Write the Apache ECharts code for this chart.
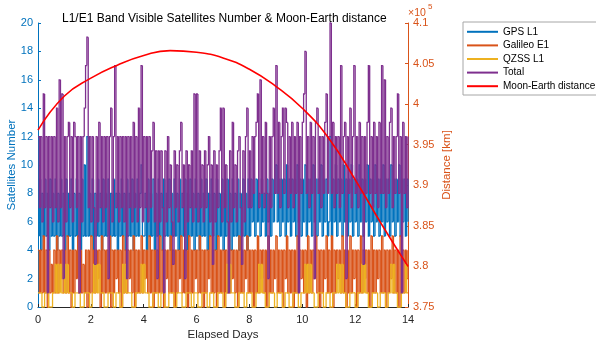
<!DOCTYPE html>
<html>
<head>
<meta charset="utf-8">
<script src="https://cdn.jsdelivr.net/npm/echarts@6/dist/echarts.min.js"></script>
<style>
  html, body { margin: 0; padding: 0; background: #fff; }
  #chart { width: 596px; height: 347px; }
</style>
</head>
<body>
<div id="chart"></div>
<script>
// sample step in days (20 samples per day)
var dt = 0.05

var gpsL1 = [
  5,9,4,8,5,9,5,8,4,9,5,8,5,9,4,8,5,9,5,8,
  4,9,5,8,5,9,4,8,5,9,5,8,4,9,5,10,5,12,5,8,
  5,9,4,8,5,9,5,8,4,9,5,8,5,9,4,8,5,9,5,8,
  4,8,5,9,5,8,4,9,5,8,5,9,4,8,5,9,5,8,10,5,
  5,8,4,9,5,8,5,9,4,8,5,9,5,8,4,9,5,8,5,9,
  4,8,5,9,5,8,4,9,5,8,5,9,4,8,5,9,5,8,4,9,
  5,8,4,9,5,8,5,9,4,8,5,9,5,8,4,9,5,8,5,9,
  4,8,5,9,5,8,4,9,5,8,5,9,4,8,5,9,5,8,4,9,
  5,9,6,8,5,9,6,8,5,9,6,8,5,9,6,8,5,9,6,8,
  10,6,9,5,9,6,9,5,10,6,9,5,9,6,9,5,10,6,9,5,
  9,6,10,5,9,6,9,5,10,6,9,5,9,6,10,5,9,6,9,5,
  6,12,5,9,6,10,5,9,6,9,5,10,6,9,5,9,6,10,5,9,
  6,9,5,10,6,9,5,9,6,10,5,9,6,9,5,10,6,9,5,9,
  6,10,5,9,6,9,5,10,6,9,5,9,6,10,5,9,6,9,5,9,
  6
]

var galileoE1 = [
  4,1,4,1,5,1,4,0,4,1,3,1,4,1,5,1,4,2,4,1,
  4,1,5,1,4,0,4,1,4,2,5,1,4,1,3,1,4,0,4,1,
  5,1,4,1,4,2,4,0,5,1,4,1,4,1,5,0,4,1,4,2,
  4,1,4,0,5,1,4,1,4,2,4,1,5,0,4,1,4,1,5,1,
  4,2,4,1,5,1,4,0,4,1,4,1,5,1,4,0,4,2,4,1,
  5,1,4,0,4,1,4,2,5,1,4,1,4,0,5,1,4,1,4,2,
  4,1,5,1,4,0,4,1,4,2,5,1,4,1,4,0,5,1,4,1,
  4,0,4,1,5,1,4,2,4,1,4,0,5,1,4,1,4,2,5,1,
  4,1,4,0,4,1,5,1,4,2,4,1,4,0,5,1,4,1,4,2,
  5,1,4,1,4,0,4,2,5,1,4,1,4,0,4,1,5,1,4,2,
  4,1,4,0,5,1,4,1,4,2,5,1,4,0,4,1,4,2,5,1,
  4,1,5,0,4,1,4,2,4,1,5,1,4,0,4,1,5,1,4,2,
  4,0,4,1,5,1,4,2,4,1,4,0,5,1,4,1,4,2,4,1,
  5,1,4,0,4,1,4,2,5,1,4,1,4,0,5,1,4,1,4,2,
  4
]

var qzssL1 = [
  1,1,1,0,0,1,1,1,0,0,0,1,1,3,1,3,1,3,1,1,
  3,1,3,1,1,1,0,0,1,1,1,1,0,0,0,1,1,1,1,0,
  0,1,3,1,3,1,3,1,1,1,0,0,0,1,1,1,1,0,0,1,
  1,1,0,0,3,1,3,1,1,1,1,0,0,0,1,1,1,1,3,1,
  3,1,1,1,0,0,0,1,1,1,1,0,0,1,1,1,0,0,0,1,
  1,1,1,0,0,1,1,1,1,0,0,0,1,1,1,1,0,0,1,1,
  1,0,0,0,1,1,1,1,0,0,1,1,1,0,0,0,1,1,1,1,
  0,0,1,3,1,3,1,1,1,0,0,0,1,1,1,1,0,0,1,1,
  1,1,0,0,0,1,1,3,1,3,1,1,0,0,0,1,1,1,1,0,
  0,1,1,1,1,0,0,1,1,1,0,0,0,1,1,1,1,0,0,1,
  1,1,3,1,3,1,3,1,1,0,0,0,1,1,1,1,0,0,1,1,
  1,0,0,1,1,1,3,1,3,1,3,1,1,0,0,0,1,1,1,1,
  0,0,1,1,1,3,1,3,1,1,0,0,0,1,1,1,1,0,0,1,
  1,1,1,0,0,1,1,3,1,3,1,1,0,0,0,1,1,1,3,1,
  1
]

var total = [
  12,7,12,6,15,7,12,1,12,7,12,6,12,7,14,6,16,7,15,2,
  12,6,12,13,7,12,6,13,12,7,12,1,12,6,12,14,17,19,7,12,
  6,12,7,3,12,6,13,7,12,6,12,7,12,2,12,14,6,12,17,7,
  12,6,12,7,12,6,12,2,12,7,12,6,13,7,12,6,14,7,17,6,
  12,7,12,6,12,7,11,13,6,11,2,11,6,11,7,1,11,6,12,7,
  10,6,3,11,7,10,6,11,13,7,10,2,11,6,10,7,11,6,15,7,
  15,6,11,7,10,6,11,7,10,12,6,10,3,11,6,10,7,11,14,6,
  14,7,10,6,1,11,6,13,7,10,6,11,12,7,3,11,6,12,14,7,
  11,7,12,8,12,13,15,7,16,8,12,7,13,8,2,12,7,12,14,8,
  17,8,13,7,12,14,8,14,13,7,12,8,13,7,12,8,13,1,12,8,
  13,15,18,8,12,7,13,8,12,2,13,14,8,12,7,12,8,13,15,8,
  12,20,8,13,7,12,8,12,7,17,8,12,13,2,12,8,14,7,12,17,
  8,12,7,13,8,12,3,12,8,13,17,8,12,7,13,8,12,7,13,8,
  17,8,16,7,12,8,13,14,7,12,8,12,15,8,12,1,13,8,12,7,
  12
]

// Moon-Earth distance (x 1e5 km), one reading per day
var distDays = [0,1,2,3,4,5,6,7,8,9,10,11,12,13,14]
var distance = [3.968,4.010,4.032,4.048,4.060,4.066,4.064,4.057,4.043,4.022,3.995,3.958,3.907,3.852,3.800]

var xTicks = [0, 14, 2]
var leftTicks = [0, 20, 2]
var rightTicks = [3.75, 4.1, 0.05]

var blue = '#0072BD'
var orange = '#D95319'
var font = 'Liberation Sans, Arial, sans-serif'

// stairs like MATLAB: each sample = [t, value, previous value, next t]
function stairRows(arr) {
  var rows = []
  for (var i = 0; i < arr.length; i++) {
    var t = +(i * dt).toFixed(2)
    var tNext = i < arr.length - 1 ? +((i + 1) * dt).toFixed(2) : t
    var prev = i > 0 ? arr[i - 1] : arr[i]
    rows.push([t, arr[i], prev, tNext])
  }
  return rows
}

function stairs(name, arr, color) {
  return {
    name: name,
    type: 'custom',
    coordinateSystem: 'cartesian2d',
    yAxisIndex: 0,
    silent: true,
    encode: { x: 0, y: 1 },
    itemStyle: { color: color },
    renderItem: function (params, api) {
      var p = api.coord([api.value(0), api.value(1)])
      var q = api.coord([api.value(0), api.value(2)])
      var r = api.coord([api.value(3), api.value(1)])
      return {
        type: 'polyline',
        shape: { points: [q, p, r] },
        style: { stroke: color, lineWidth: 1.3, fill: null }
      }
    },
    data: stairRows(arr)
  }
}

var chart = echarts.init(document.getElementById('chart'))
chart.setOption({
  animation: false,
  backgroundColor: '#fff',
  title: {
    text: 'L1/E1 Band Visible Satellites Number & Moon-Earth distance',
    left: 57,
    top: 8,
    textStyle: { fontSize: 12, fontWeight: 'normal', color: '#000', fontFamily: font }
  },
  grid: { left: 38, right: 188, top: 23, bottom: 40, containLabel: false, outerBoundsMode: 'none' },
  legend: {
    orient: 'vertical',
    left: 463,
    top: 22,
    padding: [4, 4, 3, 4],
    icon: 'rect',
    itemWidth: 31,
    itemHeight: 2,
    itemGap: 2,
    borderColor: '#a6a6a6',
    borderWidth: 1,
    backgroundColor: '#fff',
    textStyle: { fontSize: 10, lineHeight: 11.6, color: '#000', fontFamily: font },
    data: ['GPS L1', 'Galileo E1', 'QZSS L1', 'Total', 'Moon-Earth distance']
  },
  xAxis: {
    type: 'value',
    min: xTicks[0],
    max: xTicks[1],
    interval: xTicks[2],
    name: 'Elapsed Days',
    nameLocation: 'middle',
    nameGap: 22,
    nameMoveOverlap: false,
    nameTextStyle: { fontSize: 11.5, color: '#262626', fontFamily: font },
    axisLine: { lineStyle: { color: '#262626', width: 1 } },
    axisTick: { inside: true, length: 3, lineStyle: { color: '#262626' } },
    axisLabel: { fontSize: 11, color: '#262626', margin: 7, fontFamily: font },
    splitLine: { show: false }
  },
  yAxis: [
    {
      type: 'value',
      min: leftTicks[0],
      max: leftTicks[1],
      interval: leftTicks[2],
      name: 'Satellites Number',
      nameLocation: 'middle',
      nameGap: 20,
      nameMoveOverlap: false,
      nameTextStyle: { fontSize: 11.5, color: blue, fontFamily: font },
      axisLine: { show: true, lineStyle: { color: blue, width: 1 } },
      axisTick: { show: true, inside: true, length: 3, lineStyle: { color: blue } },
      axisLabel: { fontSize: 11, color: blue, margin: 5, fontFamily: font },
      splitLine: { show: false }
    },
    {
      type: 'value',
      min: rightTicks[0],
      max: rightTicks[1],
      interval: rightTicks[2],
      name: 'Distance [km]',
      nameLocation: 'middle',
      nameGap: 33,
      nameRotate: 90,
      nameMoveOverlap: false,
      nameTextStyle: { fontSize: 11.5, color: orange, fontFamily: font },
      axisLine: { show: true, lineStyle: { color: orange, width: 1 } },
      axisTick: { show: true, inside: true, length: 3, lineStyle: { color: orange } },
      axisLabel: {
        fontSize: 11,
        color: orange,
        margin: 5,
        fontFamily: font,
        formatter: function (v) { return String(+v.toFixed(2)) }
      },
      splitLine: { show: false }
    }
  ],
  graphic: [
    { type: 'text', left: 408, top: 8, style: { text: '×10', fontSize: 10.5, fill: orange, fontFamily: font } },
    { type: 'text', left: 428, top: 3, style: { text: '5', fontSize: 8, fill: orange, fontFamily: font } }
  ],
  series: [
    stairs('GPS L1', gpsL1, blue),
    stairs('Galileo E1', galileoE1, orange),
    stairs('QZSS L1', qzssL1, '#EDB120'),
    stairs('Total', total, '#7E2F8E'),
    {
      name: 'Moon-Earth distance',
      type: 'line',
      yAxisIndex: 1,
      smooth: true,
      symbol: 'none',
      lineStyle: { color: '#FF0000', width: 1.6 },
      itemStyle: { color: '#FF0000' },
      data: distDays.map(function (d, i) { return [d, distance[i]] })
    }
  ]
})
</script>
</body>
</html>
